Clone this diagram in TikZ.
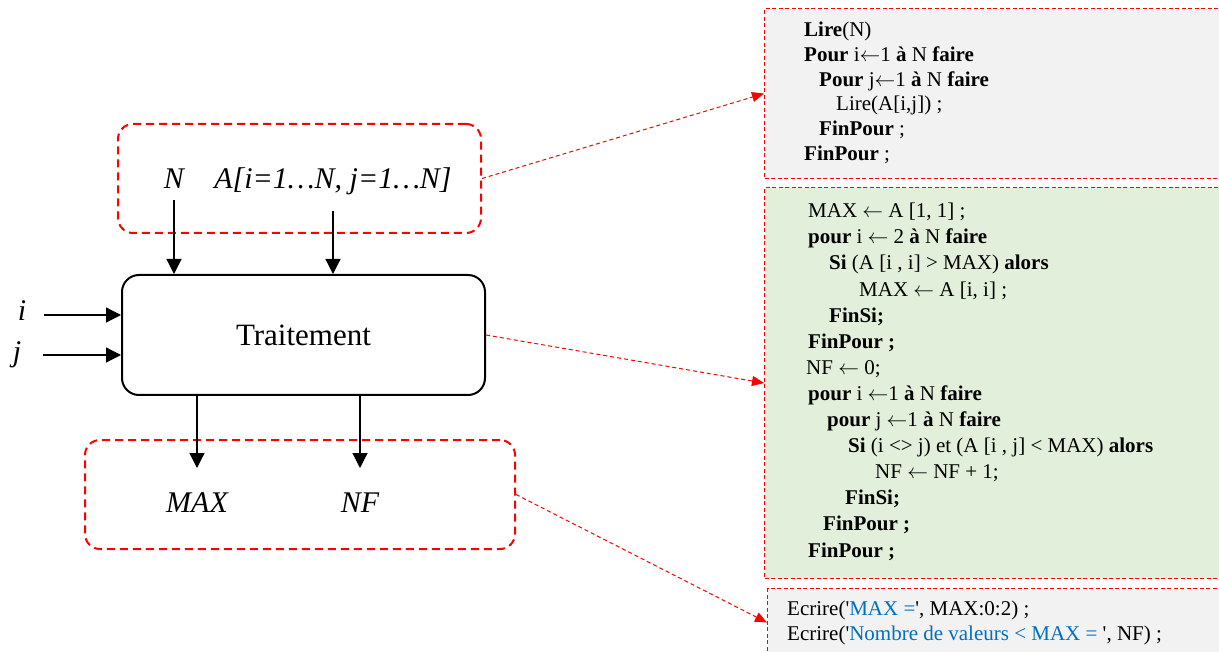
\documentclass[tikz,border=0pt]{standalone}
\usepackage{fontspec}
\setmainfont{Liberation Serif}
\usetikzlibrary{arrows.meta}
\definecolor{grisfond}{HTML}{F2F2F2}
\definecolor{vertfond}{HTML}{E2EFDA}
\definecolor{bleutexte}{HTML}{0070C0}
\tikzset{
  cadre/.style={draw=red, line width=2pt, dash pattern=on 8pt off 5pt, rounded corners=15pt},
  bloc/.style={draw, line width=2pt, rounded corners=17pt},
  algo/.style={draw=red, line width=1.1pt, dash pattern=on 4pt off 2.5pt, anchor=north west, minimum width=470pt},
  code/.style={anchor=north west, align=left, inner sep=0pt},
  var/.style={anchor=base, font=\fontsize{30}{36}\selectfont\itshape},
  fleche/.style={line width=1.2pt, -{Triangle[length=15pt,width=15pt]}},
  lien/.style={red, line width=1pt, dash pattern=on 4pt off 3pt, -{Triangle[length=12pt,width=10pt]}}
}
\newcommand{\q}{\textquotesingle}
\newcommand{\fl}{$\leftarrow$}
\begin{document}
\begin{tikzpicture}[x=1pt,y=-1pt]
\useasboundingbox (0,0) rectangle (1219,652);
\node[cadre, minimum width=363pt, minimum height=109pt] (entree) at (299.5,178.5) {};
\node[var] (N) at (174,189) {N};
\node[var] (A) at (333,189) {A[i=1…N, j=1…N]};
\node[bloc, minimum width=363pt, minimum height=120pt, font=\fontsize{31}{37}\selectfont] (trait) at (303.5,335) {Traitement};
\node[var] (i) at (22,321) {i};
\node[var] (j) at (17,362) {j};
\node[cadre, minimum width=430pt, minimum height=109pt] (sortie) at (300,494.5) {};
\node[var] (max) at (197,512) {MAX};
\node[var] (nf) at (360,512) {NF};
\draw[fleche] ([yshift=-11pt]N.base) -- (N.base |- trait.north);
\draw[fleche] ([yshift=-22pt]A.base) -- (A.base |- trait.north);
\draw[fleche] ([shift={(22pt,6pt)}]i.base) -- ([yshift=6pt]i.base -| trait.west);
\draw[fleche] ([shift={(26pt,7pt)}]j.base) -- ([yshift=7pt]j.base -| trait.west);
\draw[fleche] (max.base |- trait.south) -- ([yshift=44pt]max.base);
\draw[fleche] (nf.base |- trait.south) -- ([yshift=44pt]nf.base);
\node[algo, fill=grisfond, minimum height=170pt] (lecture) at (764,8) {};
\node[algo, fill=vertfond, minimum height=391pt] (calcul) at (764,187) {};
\node[algo, fill=grisfond, minimum height=68pt] (ecriture) at (767,588) {};
\node[code, font=\fontsize{21}{24.7}\selectfont] (lire) at (804,22) {%
\textbf{Lire}(N)\\
\textbf{Pour} i\fl1 \textbf{à} N \textbf{faire}\\
\hspace*{15pt}\textbf{Pour} j\fl1 \textbf{à} N \textbf{faire}\\
\hspace*{32pt}Lire(A[i,j]) ;\\
\hspace*{15pt}\textbf{FinPour} ;\\
\textbf{FinPour} ;};
\node[code, font=\fontsize{21}{26.1}\selectfont] (traiter) at (808,203) {%
MAX \fl{} A [1, 1] ;\\
\textbf{pour} i \fl{} 2 \textbf{à} N \textbf{faire}\\
\hspace*{21pt}\textbf{Si} (A [i , i] > MAX) \textbf{alors}\\
\hspace*{51pt}MAX \fl{} A [i, i] ;\\
\hspace*{21pt}\textbf{FinSi;}\\
\textbf{FinPour ;}\\
\hspace*{-2pt}NF \fl{} 0;\\
\textbf{pour} i \fl1 \textbf{à} N \textbf{faire}\\
\hspace*{19pt}\textbf{pour} j \fl1 \textbf{à} N \textbf{faire}\\
\hspace*{40pt}\textbf{Si} (i <> j) et (A [i , j] < MAX) \textbf{alors}\\
\hspace*{67pt}NF \fl{} NF + 1;\\
\hspace*{37pt}\textbf{FinSi;}\\
\hspace*{15pt}\textbf{FinPour ;}\\
\textbf{FinPour ;}};
\node[code, font=\fontsize{21}{24.3}\selectfont] (ecrire) at (787,601) {%
Ecrire(\q\textcolor{bleutexte}{MAX =}\q, MAX:0:2) ;\\
Ecrire(\q\textcolor{bleutexte}{Nombre de valeurs < MAX = }\q, NF) ;};
\draw[lien] (entree.east) -- (lecture.west);
\draw[lien] (trait.east) -- (calcul.west);
\draw[lien] (sortie.east) -- (ecriture.west);
\end{tikzpicture}
\end{document}
